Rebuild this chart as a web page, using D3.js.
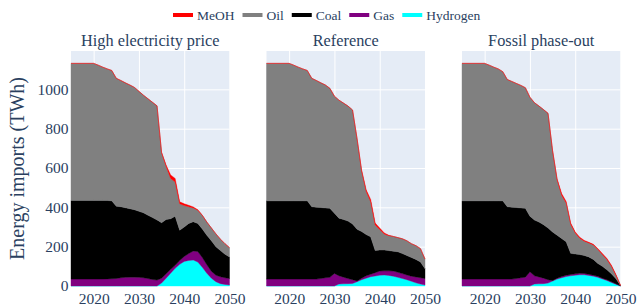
<!DOCTYPE html>
<html>
<head>
<meta charset="utf-8">
<script src="https://cdn.jsdelivr.net/npm/d3@7"></script>
<style>
  body { margin: 0; background: #fff; }
  svg text { font-family: "Liberation Serif", "Times New Roman", Times, serif !important; fill: #2a3f5f; }
</style>
</head>
<body>
<svg id="chart" width="639" height="308"></svg>
<script>
// years on the x axis (2015 base year, then yearly)
const years = [2015, 2020, 2021, 2022, 2023, 2024, 2025, 2026, 2027, 2028, 2029, 2030,
               2031, 2032, 2033, 2034, 2035, 2036, 2037, 2038, 2039, 2040, 2041, 2042,
               2043, 2044, 2045, 2046, 2047, 2048, 2049, 2050];

const scenarios = ["High electricity price", "Reference", "Fossil phase-out"];
const fuels = ["MeOH", "Oil", "Coal", "Gas", "Hydrogen"];
const fuelColors = ["#ff0000", "#808080", "#000000", "#800080", "#00ffff"];
const yTicks = [0, 200, 400, 600, 800, 1000];
const xTicks = [2020, 2030, 2040, 2050];

// High electricity price (TWh)
const hydrogenHigh = [0, 0, 0, 0, 0, 0, 0, 0, 0, 0, 0, 0, 0, 0, 0, 0,
                      15, 40, 65, 90, 110, 125, 130, 132, 122, 95, 65, 40, 22, 12, 8, 5];
const gasHigh = [35, 35, 35, 35, 36, 37, 38, 42, 44, 45, 45, 44, 42, 38, 33, 30,
                 25, 22, 20, 15, 20, 25, 35, 46, 53, 50, 43, 35, 33, 35, 34, 33];
const coalHigh = [400, 400, 400, 400, 399, 396, 368, 361, 354, 348, 343, 336, 330, 322, 315, 306,
                  282, 276, 257, 250, 154, 150, 153, 149, 143, 145, 150, 155, 145, 133, 120, 109];
const oilHigh = [697, 697, 688, 678, 669, 663, 650, 642, 635, 629, 622, 610, 598, 592, 586, 580,
                 356, 271, 205, 174, 134, 109, 85, 70, 67, 69, 67, 65, 65, 58, 53, 48];
const meohHigh = [0, 0, 0, 0, 0, 0, 0, 0, 0, 0, 0, 0, 0, 0, 0, 0,
                  2, 6, 18, 18, 10, 9, 7, 5, 3, 1, 0, 0, 0, 0, 0, 0];

// Reference (TWh)
const hydrogenRef = [0, 0, 0, 0, 0, 0, 0, 0, 0, 0, 0, 0,
                     10, 11, 12, 13, 22, 32, 40, 47, 51, 55, 56, 54, 50, 44, 38, 32, 24, 16, 10, 5];
const gasRef = [35, 35, 35, 35, 35, 35, 35, 35, 38, 42, 44, 64,
                42, 34, 26, 19, 4, 8, 12, 13, 17, 21, 21, 23, 26, 26, 25, 24, 26, 30, 32, 33];
const coalRef = [398, 398, 398, 398, 398, 398, 368, 366, 361, 355, 351, 306,
                 293, 293, 292, 283, 262, 237, 210, 190, 112, 107, 106, 103, 101, 104, 102, 99, 95, 89, 80, 50];
const oilRef = [699, 699, 690, 680, 671, 663, 653, 644, 634, 625, 610, 595,
                600, 592, 585, 580, 460, 308, 220, 178, 130, 104, 81, 76, 75, 72, 75, 75, 70, 70, 68, 49];
const meohRef = [0, 0, 0, 0, 0, 0, 0, 0, 0, 0, 0, 0, 0, 0, 0, 0,
                 2, 5, 8, 12, 10, 8, 6, 2, 0, 0, 0, 0, 0, 0, 0, 0];

// Fossil phase-out (TWh)
const hydrogenOut = [0, 0, 0, 0, 0, 0, 0, 0, 0, 0, 0, 0,
                     10, 11, 12, 15, 25, 35, 42, 48, 52, 55, 57, 57, 54, 50, 44, 36, 28, 18, 9, 0];
const gasOut = [35, 35, 35, 35, 35, 35, 35, 35, 38, 42, 45, 72,
                42, 35, 28, 17, 3, 5, 6, 7, 7, 7, 8, 7, 6, 5, 5, 4, 4, 4, 2, 1];
const coalOut = [398, 398, 398, 398, 398, 398, 368, 366, 361, 355, 350, 283,
                 283, 279, 272, 263, 247, 218, 194, 170, 107, 101, 95, 91, 88, 80, 66, 60, 50, 40, 26, 1];
const oilOut = [699, 699, 690, 680, 671, 657, 647, 639, 631, 623, 613, 605,
                597, 590, 585, 583, 412, 282, 220, 197, 148, 107, 83, 73, 71, 74, 71, 60, 53, 38, 17, 0];
const meohOut = [0, 0, 0, 0, 0, 0, 0, 0, 0, 0, 0, 0, 0, 0, 0, 0,
                 3, 5, 8, 8, 6, 5, 5, 4, 3, 3, 4, 5, 5, 5, 4, 2];

let panelSeries = [
  {MeOH: meohHigh, Oil: oilHigh, Coal: coalHigh, Gas: gasHigh, Hydrogen: hydrogenHigh},
  {MeOH: meohRef, Oil: oilRef, Coal: coalRef, Gas: gasRef, Hydrogen: hydrogenRef},
  {MeOH: meohOut, Oil: oilOut, Coal: coalOut, Gas: gasOut, Hydrogen: hydrogenOut}
];

const serif = '"Liberation Serif", "Times New Roman", serif';

let svg = d3.select('#chart');

let panelLeft = 71,
    panelWidth = 158.5,
    panelStep = 195.5,
    plotTop = 51,
    plotBottom = 286;

let y = d3.scaleLinear().domain([0, 1195]).range([plotBottom, plotTop]);

// stacked bottom to top: Hydrogen, Gas, Coal, Oil, MeOH
let stackKeys = fuels.slice().reverse();
let colorOf = d3.scaleOrdinal().domain(fuels).range(fuelColors);

let styleText = function (sel, size) {
  sel.style('font-family', serif)
     .style('font-size', size + 'px')
     .style('fill', '#2a3f5f');
}

let drawPanel = function (ii) {
  let x0 = panelLeft + ii * panelStep,
      x = d3.scaleLinear().domain([2015, 2050]).range([x0, x0 + panelWidth]);

  let g = svg.append('g');

  g.append('rect')
    .attr('x', x0).attr('y', plotTop)
    .attr('width', panelWidth).attr('height', plotBottom - plotTop)
    .attr('fill', '#e5ecf6');

  // grid lines
  g.append('g')
    .attr('transform', 'translate(0,' + plotBottom + ')')
    .call(d3.axisBottom(x).tickValues(xTicks).tickSize(-(plotBottom - plotTop)).tickFormat(''))
    .call(s => s.select('.domain').remove())
    .call(s => s.selectAll('line').attr('stroke', '#fff').attr('stroke-width', 1));

  g.append('g')
    .attr('transform', 'translate(' + x0 + ',0)')
    .call(d3.axisLeft(y).tickValues(yTicks.slice(1)).tickSize(-panelWidth).tickFormat(''))
    .call(s => s.select('.domain').remove())
    .call(s => s.selectAll('line').attr('stroke', '#fff').attr('stroke-width', 1));

  let series = panelSeries[ii];
  let rows = years.map((yr, jj) => {
    let row = {year: yr};
    fuels.forEach(f => row[f] = series[f][jj]);
    return row;
  });

  let stacked = d3.stack().keys(stackKeys)(rows);

  let area = d3.area()
    .x(d => x(d.data.year))
    .y0(d => y(d[0]))
    .y1(d => y(d[1]));

  g.selectAll('path.layer')
    .data(stacked)
    .join('path')
    .attr('class', 'layer')
    .attr('d', area)
    .attr('fill', d => colorOf(d.key))
    .attr('stroke', d => colorOf(d.key))
    .attr('stroke-width', 0.4);

  // x tick labels
  let xa = g.append('g')
    .attr('transform', 'translate(0,' + plotBottom + ')')
    .call(d3.axisBottom(x).tickValues(xTicks).tickSize(0).tickPadding(7).tickFormat(d3.format('d')));
  xa.select('.domain').remove();
  xa.selectAll('text').call(styleText, 15.5);

  if (ii == 0) {
    let ya = g.append('g')
      .attr('transform', 'translate(' + x0 + ',0)')
      .call(d3.axisLeft(y).tickValues(yTicks).tickSize(0).tickPadding(2.5).tickFormat(d3.format('d')));
    ya.select('.domain').remove();
    ya.selectAll('text').call(styleText, 15.5);
  }

  g.append('text')
    .attr('x', x0 + panelWidth / 2)
    .attr('y', 46)
    .attr('text-anchor', 'middle')
    .call(styleText, 16.3)
    .text(scenarios[ii]);
}

for (let ii = 0; ii < scenarios.length; ii++)
  drawPanel(ii);

// y axis title
svg.append('text')
  .attr('transform', 'translate(17,' + ((plotTop + plotBottom) / 2) + ') rotate(-90)')
  .attr('text-anchor', 'middle')
  .attr('dominant-baseline', 'central')
  .call(styleText, 20)
  .text('Energy imports (TWh)');

// legend
let legend = svg.append('g');
let lx = 173;
fuels.forEach(function (f) {
  legend.append('line')
    .attr('x1', lx).attr('x2', lx + 20)
    .attr('y1', 15).attr('y2', 15)
    .attr('stroke', colorOf(f))
    .attr('stroke-width', 4);
  let t = legend.append('text')
    .attr('x', lx + 24)
    .attr('y', 19.5)
    .call(styleText, 13.5)
    .text(f);
  lx += 24 + t.node().getComputedTextLength() + 8;
});
</script>
</body>
</html>
